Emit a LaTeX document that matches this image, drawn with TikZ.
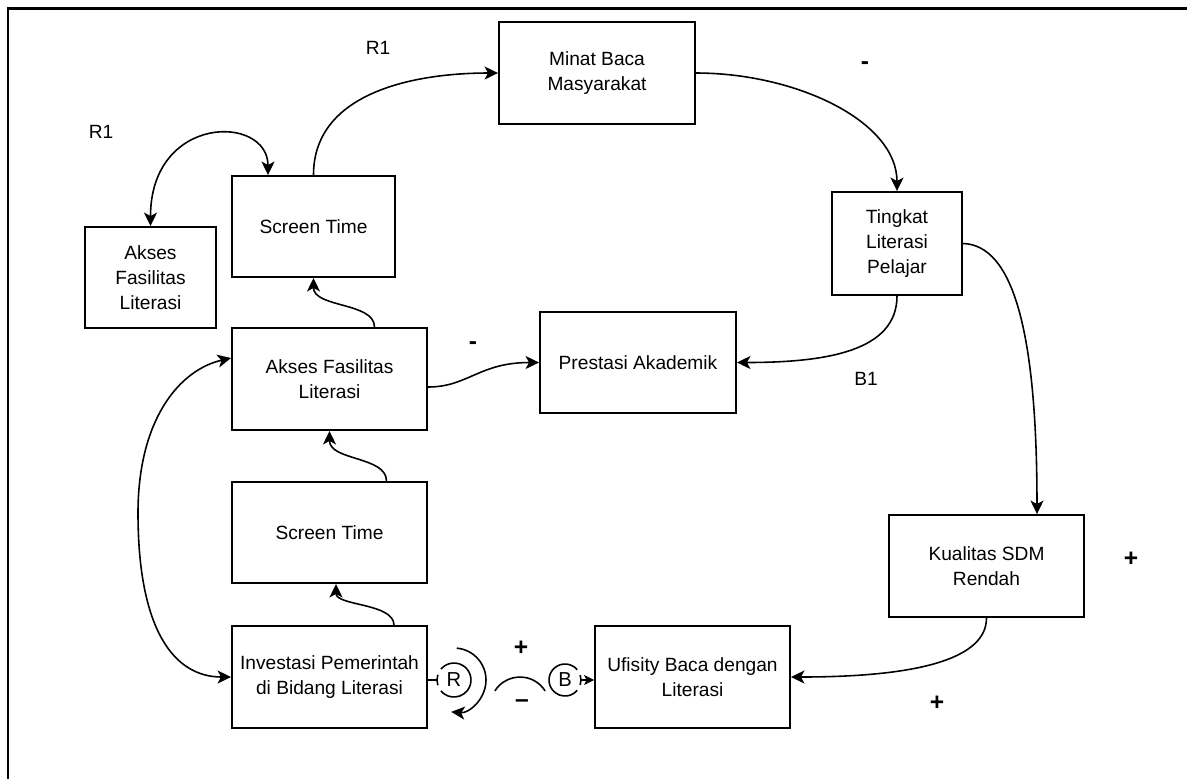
\documentclass[tikz,border=0pt]{standalone}
\usepackage{fontspec}
\setmainfont{Liberation Sans}
\usetikzlibrary{arrows.meta,calc}
\begin{document}
\begin{tikzpicture}[x=0.02cm,y=-0.02cm,
  box/.style={draw, line width=1.1pt, align=center, inner sep=2pt,
    font=\fontsize{10.9pt}{14.2pt}\selectfont},
  conn/.style={line width=0.9pt, -{Stealth[length=0.27cm,width=0.26cm,inset=0.07cm]}},
  both/.style={line width=0.9pt, {Stealth[length=0.27cm,width=0.26cm,inset=0.07cm]}-{Stealth[length=0.27cm,width=0.26cm,inset=0.07cm]}},
  plain/.style={line width=0.9pt},
  small/.style={line width=0.9pt, -{Stealth[length=0.2cm,width=0.2cm,inset=0.05cm]}},
  lbl/.style={font=\fontsize{10.9pt}{13pt}\selectfont, inner sep=0pt},
  sign/.style={font=\fontsize{14pt}{15pt}\selectfont\bfseries, inner sep=0pt},
  loopsym/.style={inner sep=0pt, minimum size=0.68cm, font=\fontsize{11.5pt}{13pt}\selectfont}
]
\useasboundingbox (0,0) rectangle (1187,779);
\draw[line width=1.7pt] (1187,8) -- (8,8) -- (8,779);

% boxes
\node[box, minimum width=3.92cm, minimum height=2.04cm] (minat) at (597,73) {Minat Baca\\Masyarakat};
\node[box, minimum width=2.6cm, minimum height=2.06cm] (tingkat) at (897,243.5) {Tingkat\\Literasi\\Pelajar};
\node[box, minimum width=3.26cm, minimum height=2.02cm] (st1) at (313.5,226.5) {Screen Time};
\node[box, minimum width=2.62cm, minimum height=2.02cm] (afl) at (150.5,277.5) {Akses\\Fasilitas\\Literasi};
\node[box, minimum width=3.9cm, minimum height=2.04cm] (af) at (329.5,379) {Akses Fasilitas\\Literasi};
\node[box, minimum width=3.92cm, minimum height=2.02cm] (prestasi) at (638,362.5) {Prestasi Akademik};
\node[box, minimum width=3.9cm, minimum height=2.02cm] (st2) at (329.5,532.5) {Screen Time};
\node[box, minimum width=3.9cm, minimum height=2.04cm] (inv) at (329.5,677) {Investasi Pemerintah\\di Bidang Literasi};
\node[box, minimum width=3.9cm, minimum height=2.04cm] (kual) at (986.5,566) {Kualitas SDM\\Rendah};
\node[box, minimum width=3.9cm, minimum height=2.04cm] (ufi) at (692.5,677) {Ufisity Baca dengan\\Literasi};

% labels
\node[lbl] (r1a) at (378,48) {R1};
\node[lbl] (r1b) at (101,132) {R1};
\node[lbl] (b1) at (866,379) {B1};
\node[sign] (m1) at (865,66) {-};
\node[sign] (m2) at (473,346) {-};
\node[sign] (p1) at (1131,559) {+};
\node[sign] (p2) at (937,703) {+};
\node[sign] (p3) at (521,648) {+};
\node[sign] (m3) at (522,704) {--};

% connectors
\draw[conn] (st1.north) .. controls +(0,-83) and +(-83,0) .. (minat.west);
\draw[conn] (minat.east) .. controls +(100,0) and +(0,-70) .. (tingkat.north);
\draw[conn] (tingkat.south) .. controls +(0,55) and +(90,0) .. (prestasi.east);
\draw[conn] (tingkat.east) .. controls +(50,1.5) and +(0,-183) .. ([xshift=1.01cm]kual.north);
\draw[conn] (kual.south) .. controls +(0,40) and +(130,0) .. (ufi.east);
\draw[conn] ([yshift=-0.16cm]af.east) .. controls +(40,0) and +(-60,0) .. (prestasi.west);
\draw[conn] ([xshift=0.9cm]af.north) .. controls +(0,-25) and +(0,30) .. (st1.south);
\draw[conn] ([xshift=1.14cm]st2.north) .. controls +(0,-25) and +(0,30) .. (af.south);
\draw[conn] ([xshift=1.29cm]inv.north) .. controls +(0,-22) and +(0,22) .. ([xshift=0.13cm]st2.south);
\coordinate (loopL) at (138,513);
\draw[both] ([yshift=0.42cm]af.west) .. controls +(-52,12) and +(0,-93) .. (loopL)
  .. controls +(0,117) and +(-57,0) .. (inv.west);
\draw[both] (afl.north) .. controls +(0,-112) and +(0,-61) .. ([xshift=-0.91cm]st1.north);

% loop symbols
\node[loopsym] (Rc) at (454,680) {R};
\draw[plain] (Rc.center) ++(140:0.34cm) arc[start angle=140, end angle=-140, radius=0.34cm];
\draw[plain] (Rc.center) ++(162:0.34cm) arc[start angle=162, end angle=198, radius=0.34cm];
\draw[plain] (Rc.west -| inv.east) -- (Rc.west);
\draw[conn] (Rc.center) ++(85:0.64cm) arc[start angle=85, end angle=-95, radius=0.64cm];
\coordinate (mc) at (520,706.6);
\draw[plain] (mc) ++(148:0.592cm) arc[start angle=148, end angle=32, radius=0.592cm];
\node[loopsym, minimum size=0.64cm] (Bc) at (565,680) {B};
\draw[plain] (Bc.center) ++(40:0.32cm) arc[start angle=40, end angle=320, radius=0.32cm];
\draw[plain] (Bc.center) ++(-18:0.32cm) arc[start angle=-18, end angle=18, radius=0.32cm];
\draw[small] (Bc.east) -- (Bc.east -| ufi.west);
\end{tikzpicture}
\end{document}
